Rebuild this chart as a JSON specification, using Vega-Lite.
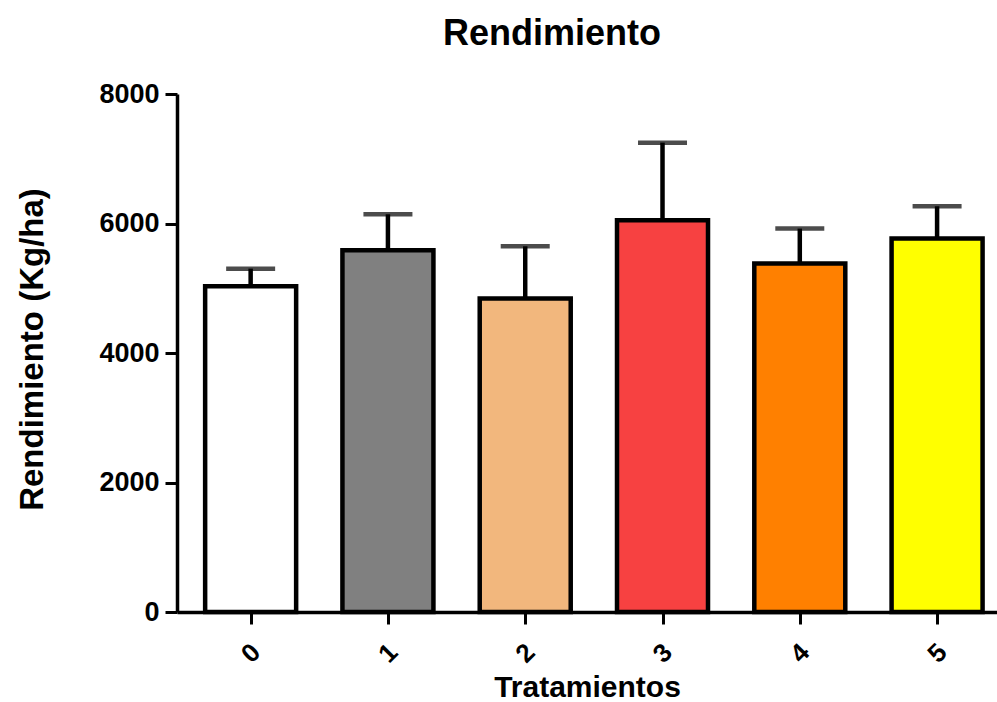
{
  "$schema": "https://vega.github.io/schema/vega-lite/v6.json",
  "autosize": {"type": "none"},
  "padding": {"left": 177, "top": 94, "right": 0, "bottom": 90},
  "width": 820,
  "height": 518,
  "background": "white",
  "config": {
    "view": {"stroke": null},
    "axis": {
      "grid": false,
      "domainColor": "black",
      "tickColor": "black",
      "labelColor": "black",
      "titleColor": "black",
      "labelFont": "Liberation Sans",
      "titleFont": "Liberation Sans",
      "labelFontWeight": "bold",
      "titleFontWeight": "bold"
    }
  },
  "title": {
    "text": "Rendimiento",
    "font": "Liberation Sans",
    "fontSize": 36,
    "fontWeight": "bold",
    "color": "black",
    "anchor": "middle",
    "baseline": "alphabetic",
    "dx": -35,
    "offset": 0,
    "dy": 1
  },
  "data": {
    "values": [
      {"Tratamiento": 0, "Rendimiento": 5030, "Superior": 5303},
      {"Tratamiento": 1, "Rendimiento": 5586, "Superior": 6142},
      {"Tratamiento": 2, "Rendimiento": 4840, "Superior": 5648},
      {"Tratamiento": 3, "Rendimiento": 6049, "Superior": 7249},
      {"Tratamiento": 4, "Rendimiento": 5381, "Superior": 5921},
      {"Tratamiento": 5, "Rendimiento": 5767, "Superior": 6266}
    ]
  },
  "encoding": {
    "x": {
      "field": "Tratamiento",
      "type": "quantitative",
      "scale": {"domain": [-0.5, 5.4], "nice": false, "zero": false},
      "axis": {
        "values": [0, 1, 2, 3, 4, 5],
        "format": "d",
        "title": "Tratamientos",
        "titleFontSize": 30,
        "titleBaseline": "alphabetic",
        "titleY": 84,
        "labelFontSize": 26,
        "labelAngle": -45,
        "labelAlign": "center",
        "labelBaseline": "middle",
        "labelPadding": 29,
        "labelDx": -9,
        "labelDy": -9,
        "tickSize": 12,
        "tickWidth": 3,
        "domainWidth": 3.5
      }
    },
    "y": {
      "field": "Rendimiento",
      "type": "quantitative",
      "scale": {"domain": [0, 8000], "nice": false},
      "axis": {
        "values": [0, 2000, 4000, 6000, 8000],
        "format": "d",
        "title": "Rendimiento (Kg/ha)",
        "titleFontSize": 33,
        "titleAngle": 270,
        "titleBaseline": "alphabetic",
        "titleAlign": "center",
        "titleX": -135,
        "titleY": 255,
        "labelFontSize": 27,
        "labelPadding": 6,
        "tickSize": 12,
        "tickWidth": 3,
        "domainWidth": 3.5
      }
    }
  },
  "layer": [
    {
      "mark": {"type": "bar", "orient": "vertical", "size": 91, "stroke": "black", "strokeWidth": 4.5},
      "encoding": {
        "color": {
          "field": "Tratamiento",
          "type": "nominal",
          "scale": {"domain": [0, 1, 2, 3, 4, 5], "range": ["#ffffff", "#808080", "#f2b77d", "#f74141", "#ff8000", "#ffff00"]},
          "legend": null
        }
      }
    },
    {
      "mark": {"type": "rule", "color": "black", "strokeWidth": 4.5},
      "encoding": {"y2": {"field": "Superior"}}
    },
    {
      "mark": {"type": "tick", "orient": "horizontal", "color": "black", "size": 49, "thickness": 4.5},
      "encoding": {"y": {"field": "Superior", "type": "quantitative"}}
    }
  ]
}
